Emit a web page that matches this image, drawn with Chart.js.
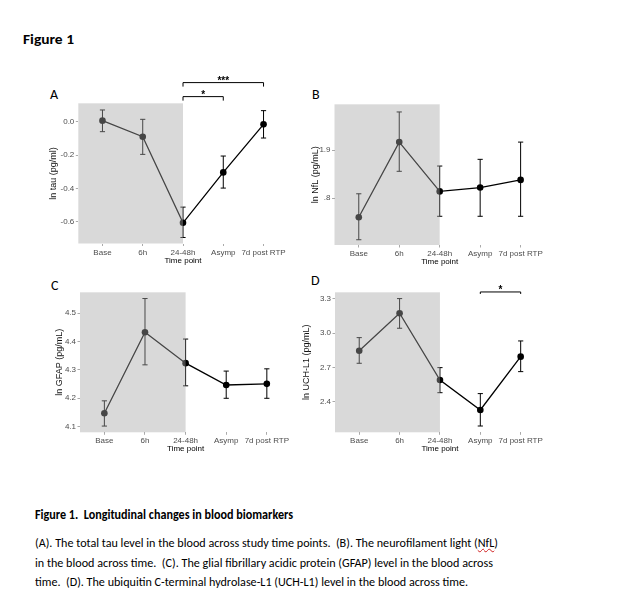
<!DOCTYPE html>
<html>
<head>
<meta charset="utf-8">
<script src="https://cdn.jsdelivr.net/npm/chart.js@4.4.1/dist/chart.umd.min.js"></script>
<style>
  html, body { margin: 0; padding: 0; background: #fff; }
  #page { position: relative; width: 632px; height: 605px; overflow: hidden; font-family: Carlito, "Liberation Sans", Arial, sans-serif; color: #000; }
  canvas { position: absolute; }
  .letter { position: absolute; font-size: 14px; line-height: 14px; }
  .line { position: absolute; white-space: pre; transform-origin: 0 50%; line-height: 1; }
  .bold { font-weight: bold; }
  .wavy { text-decoration: underline wavy #d02020; text-decoration-thickness: 1px; }
</style>
</head>
<body>
<div id="page">
  <div class="line bold" style="left:23px; top:33px; font-size:14px;" data-w="51">Figure 1</div>

  <div class="letter" style="left:50px; top:88px;">A</div>
  <div class="letter" style="left:312px; top:88px;">B</div>
  <div class="letter" style="left:51px; top:279px;">C</div>
  <div class="letter" style="left:311px; top:274px;">D</div>

  <canvas id="chartA"></canvas>
  <canvas id="chartB"></canvas>
  <canvas id="chartC"></canvas>
  <canvas id="chartD"></canvas>

  <div class="line bold" style="left:35px; top:508px; font-size:13px;" data-w="258">Figure 1.  Longitudinal changes in blood biomarkers</div>
  <div class="line" style="left:35px; top:537px; font-size:12.5px;" data-w="463">(A). The total tau level in the blood across study time points.  (B). The neurofilament light (<span class="wavy">NfL</span>)</div>
  <div class="line" style="left:35px; top:557px; font-size:12.5px;" data-w="458">in the blood across time.  (C). The glial fibrillary acidic protein (GFAP) level in the blood across</div>
  <div class="line" style="left:35px; top:576px; font-size:12.5px;" data-w="433">time.  (D). The ubiquitin C-terminal hydrolase-L1 (UCH-L1) level in the blood across time.</div>
</div>

<script>
// time points
const timePoints = ['Base', '6h', '24-48h', 'Asymp', '7d post RTP'];

// A: total tau (ln pg/ml), mean and error bar ends
const tauMean = [0.006, -0.09, -0.606, -0.304, -0.016];
const tauLow  = [-0.06, -0.196, -0.694, -0.398, -0.098];
const tauHigh = [0.07, 0.014, -0.512, -0.206, 0.066];
const tauTicks = [-0.6, -0.4, -0.2, 0.0];
const tauTickLabels = ['-0.6', '-0.4', '-0.2', '0.0'];
const tauSig = [
  { from: 2, to: 4, y: 0.234, label: '***' },
  { from: 2, to: 3, y: 0.150, label: '*' }
];

// B: NfL
const nflMean = [1.760, 1.917, 1.814, 1.822, 1.838];
const nflLow  = [1.713, 1.856, 1.762, 1.762, 1.762];
const nflHigh = [1.809, 1.980, 1.867, 1.881, 1.917];
const nflTicks = [1.8, 1.9];
const nflTickLabels = ['.8', '1.9'];

// C: GFAP
const gfapMean = [4.147, 4.433, 4.324, 4.247, 4.251];
const gfapLow  = [4.102, 4.318, 4.244, 4.200, 4.200];
const gfapHigh = [4.191, 4.552, 4.409, 4.296, 4.304];
const gfapTicks = [4.1, 4.2, 4.3, 4.4, 4.5];
const gfapTickLabels = ['4.1', '4.2', '4.3', '4.4', '4.5'];

// D: UCH-L1
const uchMean = [2.848, 3.175, 2.592, 2.330, 2.796];
const uchLow  = [2.738, 3.044, 2.481, 2.190, 2.665];
const uchHigh = [2.962, 3.303, 2.700, 2.473, 2.933];
const uchTicks = [2.4, 2.7, 3.0, 3.3];
const uchTickLabels = ['2.4', '2.7', '3.0', '3.3'];
const uchSig = [{ from: 3, to: 4, y: 3.361, label: '*' }];

const fam = '"Liberation Sans", Arial, sans-serif';
const tickFont = { family: fam, size: 8 };
const xTitleFont = { family: fam, size: 8 };
const yTitleFont = { family: fam, size: 9 };

// error bars under the points, grey acute-phase window and brackets on top
const extrasPlugin = {
  id: 'extras',
  beforeDatasetsDraw(chart, args, opts) {
    const { ctx, scales: { x, y } } = chart;
    ctx.save();
    ctx.strokeStyle = '#000';
    ctx.lineWidth = 1;
    opts.low.forEach((lo, i) => {
      const px = x.getPixelForValue(i);
      const y1 = y.getPixelForValue(lo);
      const y2 = y.getPixelForValue(opts.high[i]);
      const cap = 2.6;
      ctx.beginPath();
      ctx.moveTo(px, y1); ctx.lineTo(px, y2);
      ctx.moveTo(px - cap, y1); ctx.lineTo(px + cap, y1);
      ctx.moveTo(px - cap, y2); ctx.lineTo(px + cap, y2);
      ctx.stroke();
    });
    ctx.restore();
  },
  afterDatasetsDraw(chart, args, opts) {
    const { ctx, chartArea, scales: { x, y } } = chart;
    ctx.save();
    ctx.fillStyle = 'rgba(165,165,165,0.424)';
    const x1 = x.getPixelForValue(opts.shadeTo);
    ctx.fillRect(chartArea.left, chartArea.top, x1 - chartArea.left, chartArea.bottom - chartArea.top);

    ctx.strokeStyle = '#000';
    ctx.fillStyle = '#000';
    ctx.lineWidth = 1;
    ctx.font = 'bold 10px ' + fam;
    ctx.textAlign = 'center';
    ctx.textBaseline = 'alphabetic';
    (opts.sig || []).forEach(s => {
      const xa = x.getPixelForValue(s.from);
      const xb = x.getPixelForValue(s.to);
      const yy = y.getPixelForValue(s.y);
      ctx.beginPath();
      ctx.moveTo(xa, yy + opts.tip); ctx.lineTo(xa, yy);
      ctx.lineTo(xb, yy); ctx.lineTo(xb, yy + opts.tip);
      ctx.stroke();
      ctx.fillText(s.label, (xa + xb) / 2, yy + 1.5);
    });
    ctx.restore();
  }
};

function makePanel(p) {
  const canvas = document.getElementById(p.id);
  canvas.width = p.box.w;
  canvas.height = p.box.h;
  canvas.style.left = p.box.x + 'px';
  canvas.style.top = p.box.y + 'px';

  const yAxisW = p.area.l - p.box.x;
  const xAxisH = p.box.y + p.box.h - p.area.b;

  new Chart(canvas, {
    type: 'line',
    data: {
      datasets: [{
        data: p.mean.map((v, i) => ({ x: i, y: v })),
        borderColor: '#000',
        borderWidth: 1.3,
        pointRadius: 3.3,
        pointHoverRadius: 3.3,
        pointBackgroundColor: '#000',
        pointBorderWidth: 0,
        tension: 0
      }]
    },
    options: {
      responsive: false,
      animation: false,
      events: [],
      layout: {
        padding: {
          left: 0,
          bottom: 0,
          top: p.area.t - p.box.y,
          right: p.box.x + p.box.w - p.area.r
        }
      },
      plugins: {
        legend: { display: false },
        tooltip: { enabled: false },
        extras: { low: p.low, high: p.high, shadeTo: 2, sig: p.sig, tip: p.tip || 4 }
      },
      scales: {
        x: {
          type: 'linear',
          min: -0.6,
          max: 4.6,
          afterBuildTicks: s => { s.ticks = timePoints.map((c, i) => ({ value: i })); },
          afterFit: s => { s.height = xAxisH; },
          ticks: {
            callback: v => timePoints[v],
            font: tickFont,
            color: '#4d4d4d',
            padding: 1.5,
            maxRotation: 0,
            minRotation: 0,
            autoSkip: false
          },
          grid: { drawOnChartArea: false, drawTicks: true, tickLength: 2.5, color: '#aaa' },
          border: { display: false },
          title: {
            display: true,
            text: 'Time point',
            font: xTitleFont,
            color: '#000',
            padding: { top: 0, bottom: xAxisH - 16.8 - xTitleFont.size * 0.6 }
          }
        },
        y: {
          type: 'linear',
          min: p.yMin,
          max: p.yMax,
          afterBuildTicks: s => { s.ticks = p.ticks.map(v => ({ value: v })); },
          afterFit: s => { s.width = yAxisW; },
          ticks: {
            callback: (v, i) => p.tickLabels[i],
            font: tickFont,
            color: '#4d4d4d',
            padding: 1.5
          },
          grid: { drawOnChartArea: false, drawTicks: true, tickLength: 2.5, color: '#aaa' },
          border: { display: false },
          title: {
            display: true,
            text: p.yTitle,
            font: yTitleFont,
            color: '#111',
            padding: { top: p.titleX - p.box.x - yTitleFont.size * 0.6, bottom: 0 }
          }
        }
      }
    },
    plugins: [extrasPlugin]
  });
}

makePanel({
  id: 'chartA', box: { x: 20, y: 62, w: 280, h: 204 },
  area: { l: 78.3, t: 103.3, r: 287.7, b: 243.5 },
  yMin: -0.73, yMax: 0.11, ticks: tauTicks, tickLabels: tauTickLabels,
  mean: tauMean, low: tauLow, high: tauHigh, sig: tauSig, tip: 4,
  yTitle: 'ln tau (pg/ml)', titleX: 54
});
makePanel({
  id: 'chartB', box: { x: 300, y: 62, w: 280, h: 205 },
  area: { l: 334.5, t: 104.3, r: 544.9, b: 245 },
  yMin: 1.702, yMax: 1.996, ticks: nflTicks, tickLabels: nflTickLabels,
  mean: nflMean, low: nflLow, high: nflHigh,
  yTitle: 'ln NfL (pg/mL)', titleX: 315.5
});
makePanel({
  id: 'chartC', box: { x: 20, y: 266, w: 280, h: 189 },
  area: { l: 80, t: 292.3, r: 291.2, b: 432.3 },
  yMin: 4.08, yMax: 4.574, ticks: gfapTicks, tickLabels: gfapTickLabels,
  mean: gfapMean, low: gfapLow, high: gfapHigh,
  yTitle: 'ln GFAP (pg/mL)', titleX: 59.7
});
makePanel({
  id: 'chartD', box: { x: 300, y: 267, w: 280, h: 188 },
  area: { l: 335, t: 292.3, r: 544.9, b: 432.3 },
  yMin: 2.135, yMax: 3.358, ticks: uchTicks, tickLabels: uchTickLabels,
  mean: uchMean, low: uchLow, high: uchHigh, sig: uchSig, tip: 2,
  yTitle: 'ln UCH-L1 (pg/mL)', titleX: 307
});

// squeeze text lines to the widths they have in the figure
document.querySelectorAll('.line').forEach(el => {
  const target = parseFloat(el.dataset.w);
  const w = el.getBoundingClientRect().width;
  if (w > 0) el.style.transform = 'scaleX(' + (target / w) + ')';
});
</script>
</body>
</html>
